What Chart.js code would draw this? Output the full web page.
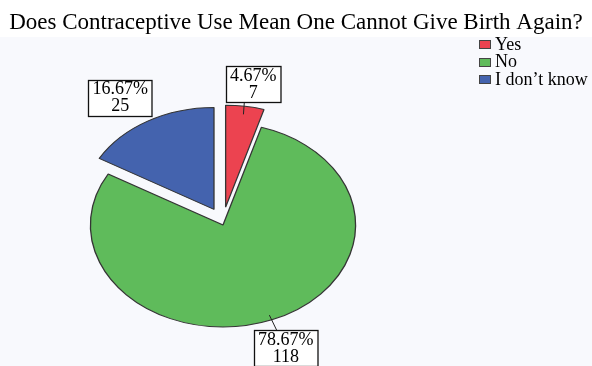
<!DOCTYPE html>
<html>
<head>
<meta charset="utf-8">
<script src="https://cdn.jsdelivr.net/npm/chart.js@4/dist/chart.umd.min.js"></script>
<style>
  html, body { margin: 0; padding: 0; background: #f8f9fd; }
  #wrap { position: relative; width: 592px; height: 366px; }
</style>
</head>
<body>
<div id="wrap"><canvas id="pie"></canvas></div>
<script>
// Survey answers: "Does contraceptive use mean one cannot give birth again?"
const TITLE = 'Does Contraceptive Use Mean One Cannot Give Birth Again?';
const answers = ['Yes', 'No', 'I don\u2019t know'];
const counts = [7, 118, 25];
const explode = [18, 0, 18];

const SERIF = "'Liberation Serif', 'Times New Roman', serif";
const COLORS = {
  slices: ['#ec4350', '#5fbb5b', '#4463ae'],
  edge:   '#353535',
  bgTop:  '#ffffff',
  bg:     '#f8f9fd',
  text:   '#000000',
};

// pie is drawn as an ellipse: centre + horizontal stretch
const PIE = { cx: 223, cy: 225, r: 102, sx: 1.3 };
// value boxes: shift of box centre from the slice's outer mid point, leader start (fraction of r)
const boxShift = [[8.3, -22], [14, 28], [-27.5, -23.5]];
const leaderFrom = [0.92, 0.95, null];
const LEGEND = { x: 479, y: 44, step: 17.5, w: 11, h: 8 };

const total = counts.reduce((a, b) => a + b, 0);

function midAngle(arc) {
  return (arc.startAngle + arc.endAngle) / 2;
}

// screen point at fraction f of the radius along the arc's mid angle
function arcPoint(arc, i, f) {
  const mid = midAngle(arc);
  const c = Math.cos(mid), s = Math.sin(mid);
  return {
    x: PIE.cx + c * explode[i] + PIE.sx * c * PIE.r * f,
    y: PIE.cy + s * explode[i] + s * PIE.r * f,
  };
}

const backdrop = {
  id: 'backdrop',
  beforeDraw(chart) {
    const { ctx, width, height } = chart;
    ctx.save();
    ctx.fillStyle = COLORS.bg;
    ctx.fillRect(0, 0, width, height);
    ctx.fillStyle = COLORS.bgTop;
    ctx.fillRect(0, 0, width, 37);
    ctx.restore();
  },
};

// draw each slice stretched into the ellipse and pulled out along its mid angle
const ellipse = {
  id: 'ellipse',
  beforeDatasetDraw(chart, args) {
    const ctx = chart.ctx;
    args.meta.data.forEach((arc, i) => {
      const mid = midAngle(arc);
      ctx.save();
      ctx.translate(PIE.cx + Math.cos(mid) * explode[i], PIE.cy + Math.sin(mid) * explode[i]);
      ctx.scale(PIE.sx, 1);
      ctx.translate(-arc.x, -arc.y);
      arc.draw(ctx);
      ctx.restore();
    });
    return false;
  },
};

const valueBoxes = {
  id: 'valueBoxes',
  afterDatasetsDraw(chart) {
    const ctx = chart.ctx;
    const arcs = chart.getDatasetMeta(0).data;
    ctx.save();
    ctx.font = '18px ' + SERIF;
    ctx.textAlign = 'center';
    ctx.textBaseline = 'middle';
    arcs.forEach((arc, i) => {
      const pct = (counts[i] / total * 100).toFixed(2) + '%';
      const val = String(counts[i]);
      const edge = arcPoint(arc, i, 1);
      const bx = edge.x + boxShift[i][0];
      const by = edge.y + boxShift[i][1];
      const w = Math.max(ctx.measureText(pct).width, ctx.measureText(val).width) + 8;
      const h = 36;
      const left = Math.round(bx - w / 2) + 0.5;
      const top = Math.round(by - h / 2) + 0.5;
      if (leaderFrom[i] != null) {
        const p = arcPoint(arc, i, leaderFrom[i]);
        const ey = p.y < top ? top : top + h;
        ctx.strokeStyle = '#222';
        ctx.lineWidth = 1;
        ctx.beginPath();
        ctx.moveTo(p.x, p.y);
        ctx.lineTo(bx - 9 * Math.sign(boxShift[i][0]), ey);
        ctx.stroke();
      }
      ctx.fillStyle = '#fff';
      ctx.fillRect(left, top, w, h);
      ctx.strokeStyle = '#111';
      ctx.lineWidth = 1.3;
      ctx.strokeRect(left, top, w, h);
      ctx.fillStyle = COLORS.text;
      ctx.fillText(pct, bx, by - 8);
      ctx.fillText(val, bx, by + 9);
    });
    ctx.restore();
  },
};

const sideLegend = {
  id: 'sideLegend',
  afterDraw(chart) {
    const ctx = chart.ctx;
    ctx.save();
    ctx.font = '18px ' + SERIF;
    ctx.textBaseline = 'middle';
    chart.data.labels.forEach((label, i) => {
      const y = LEGEND.y + i * LEGEND.step;
      ctx.fillStyle = COLORS.slices[i];
      ctx.fillRect(LEGEND.x + 0.5, Math.round(y - LEGEND.h / 2) + 0.5, LEGEND.w, LEGEND.h);
      ctx.strokeStyle = '#444';
      ctx.lineWidth = 1;
      ctx.strokeRect(LEGEND.x + 0.5, Math.round(y - LEGEND.h / 2) + 0.5, LEGEND.w, LEGEND.h);
      ctx.fillStyle = COLORS.text;
      ctx.fillText(label, LEGEND.x + LEGEND.w + 5, y + 1);
    });
    ctx.restore();
  },
};

new Chart(document.getElementById('pie'), {
  type: 'pie',
  data: {
    labels: answers,
    datasets: [{
      data: counts,
      backgroundColor: COLORS.slices,
      borderColor: COLORS.edge,
      borderWidth: 1,
      clip: false,
    }],
  },
  options: {
    responsive: true,
    maintainAspectRatio: false,
    animation: false,
    radius: PIE.r,
    events: [],
    plugins: {
      legend: { display: false },
      tooltip: { enabled: false },
      title: {
        display: true,
        text: TITLE,
        color: COLORS.text,
        font: { family: SERIF, size: 23, weight: 'normal' },
        padding: { top: 9, bottom: 4 },
      },
    },
  },
  plugins: [backdrop, ellipse, valueBoxes, sideLegend],
});
</script>
</body>
</html>
